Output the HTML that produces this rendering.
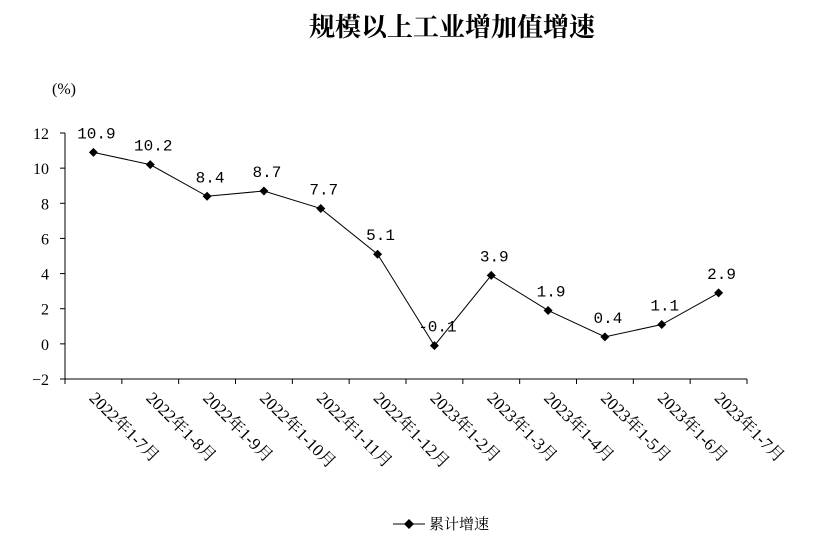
<!DOCTYPE html>
<html><head><meta charset="utf-8"><style>
body{margin:0;background:#fff;width:823px;height:550px;overflow:hidden}
svg{font-family:"Liberation Serif","Noto Serif CJK SC",serif}
</style></head><body>
<svg id="c" width="823" height="550">
<text x="452" y="36" text-anchor="middle" font-size="26" font-weight="bold" font-family="'Liberation Serif','Noto Serif CJK SC',serif">规模以上工业增加值增速</text>
<text x="52" y="94" font-size="16">(%)</text>
<g id="axes"></g><g id="marks"></g>
<g>
<line x1="393" y1="524" x2="425" y2="524" stroke="#000" stroke-width="1"/>
<path d="M409,519 L414,524 L409,529 L404,524Z" fill="#000"/>
<text x="429" y="529" font-size="15">累计增速</text>
</g>
</svg>
<script>
const categories=["2022年1-7月","2022年1-8月","2022年1-9月","2022年1-10月","2022年1-11月","2022年1-12月","2023年1-2月","2023年1-3月","2023年1-4月","2023年1-5月","2023年1-6月","2023年1-7月"];
const values=[10.9,10.2,8.4,8.7,7.7,5.1,-0.1,3.9,1.9,0.4,1.1,2.9];
const yTicks=[-2,0,2,4,6,8,10,12];
const NS="http://www.w3.org/2000/svg";
const x0=65,x1=747,yTop=133,yBot=379,vMin=-2,vMax=12;
const bw=(x1-x0)/categories.length;
const X=i=>x0+bw*(i+0.5);
const Y=v=>yBot-(v-vMin)/(vMax-vMin)*(yBot-yTop);
function mk(t,a,p){const e=document.createElementNS(NS,t);for(const k in a)e.setAttribute(k,a[k]);p.appendChild(e);return e;}
const ax=document.getElementById('axes'),mg=document.getElementById('marks');
let e=mk('line',{x1:x0,y1:yTop,x2:x0,y2:yBot,stroke:'#000'},ax);


e=mk('line',{x1:x0,y1:yBot,x2:x1,y2:yBot,stroke:'#000'},ax);


yTicks.forEach(t=>{
 mk('line',{x1:x0-5,y1:Y(t),x2:x0,y2:Y(t),stroke:'#000'},ax);
 const tx=mk('text',{x:x0-16,y:Y(t)+6,'text-anchor':'end','font-size':16},ax);
 tx.textContent=t<0?'−'+(-t):t;
 
 
});
for(let i=0;i<=categories.length;i++){mk('line',{x1:x0+bw*i,y1:yBot,x2:x0+bw*i,y2:yBot+5,stroke:'#000'},ax);}
categories.forEach((c,i)=>{
 const tx=mk('text',{x:0,y:0,'font-size':17,transform:`translate(${X(i)-5},${yBot+20}) rotate(45)`},ax);
 tx.textContent=c;
 
 
});
const ln=mk('polyline',{points:values.map((v,i)=>X(i)+','+Y(v)).join(' '),fill:'none',stroke:'#000','stroke-width':1},mg);


values.forEach((v,i)=>{
 const x=X(i),y=Y(v);
 const p=mk('path',{d:`M${x},${y-4.5}L${x+4.5},${y}L${x},${y+4.5}L${x-4.5},${y}Z`,fill:'#000'},mg);
 
 
 const t=mk('text',{x:x+3,y:y-14,'text-anchor':'middle','font-size':16,'font-family':"'Liberation Mono',monospace"},mg);
 t.textContent=v.toFixed(1);
 
 
});
</script>
</body></html>
